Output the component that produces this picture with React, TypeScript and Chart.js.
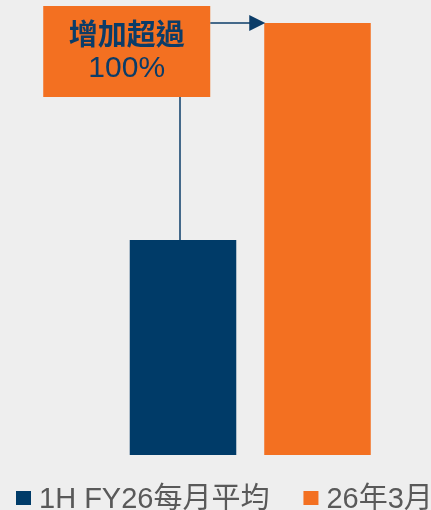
import React, { useEffect, useRef } from "react";
import { Chart, registerables } from "chart.js";

Chart.register(...registerables);

const categories = [""];
const seriesLabels = ["1H FY26每月平均", "26年3月"];
const seriesValues = [[100], [201]];
const seriesColors = ["#003B68", "#F37021"];
const calloutLines = ["增加超過", "100%"];
const yMin = 0;
const yMax = 201;

const BG = "#EEEEEE";
const NAVY = "#0B3C68";
const LEGEND_TEXT = "#595959";
const LATIN = "'Liberation Sans', Arial, 'Noto Sans CJK TC', sans-serif";

const calloutPlugin = {
  id: "callout",
  beforeDraw(chart: any) {
    const { ctx, width, height } = chart;
    ctx.save();
    ctx.fillStyle = BG;
    ctx.fillRect(0, 0, width, height);
    ctx.restore();
  },
  afterDatasetsDraw(chart: any) {
    const { ctx } = chart;
    const blue = chart.getDatasetMeta(0).data[0];
    const orange = chart.getDatasetMeta(1).data[0];
    if (!blue || !orange) return;
    const orangeLeft = orange.x - orange.width / 2;
    const boxRight = orangeLeft - 54;
    const boxLeft = boxRight - 167;
    const boxTop = 6;
    const boxBottom = 97;
    const lineX = blue.x - 3;
    const arrowY = orange.y;

    ctx.save();
    // connector to blue bar
    ctx.strokeStyle = NAVY;
    ctx.lineWidth = 1.5;
    ctx.beginPath();
    ctx.moveTo(lineX, boxBottom);
    ctx.lineTo(lineX, blue.y);
    ctx.stroke();
    // arrow to orange bar
    const tipX = orangeLeft + 1;
    const headLen = 16;
    ctx.beginPath();
    ctx.moveTo(boxRight, arrowY);
    ctx.lineTo(tipX - headLen + 2, arrowY);
    ctx.stroke();
    ctx.fillStyle = NAVY;
    ctx.beginPath();
    ctx.moveTo(tipX, arrowY);
    ctx.lineTo(tipX - headLen, arrowY - 8);
    ctx.lineTo(tipX - headLen, arrowY + 8);
    ctx.closePath();
    ctx.fill();
    // box
    ctx.fillStyle = seriesColors[1];
    ctx.fillRect(boxLeft, boxTop, boxRight - boxLeft, boxBottom - boxTop);
    // text
    const cx = (boxLeft + boxRight) / 2;
    ctx.fillStyle = NAVY;
    ctx.textAlign = "center";
    ctx.textBaseline = "middle";
    ctx.font = `bold 29px 'Noto Sans CJK TC', sans-serif`;
    ctx.fillText(calloutLines[0], cx, 34);
    ctx.font = `30px ${LATIN}`;
    ctx.fillText(calloutLines[1], cx, 69);
    ctx.restore();

    // legend
    ctx.save();
    ctx.font = `29px ${LATIN}`;
    ctx.textAlign = "left";
    ctx.textBaseline = "alphabetic";
    let x = 16;
    chart.data.datasets.forEach((ds: any) => {
      ctx.fillStyle = ds.backgroundColor;
      ctx.fillRect(x, 491, 15, 14);
      ctx.fillStyle = LEGEND_TEXT;
      const tx = x + 23;
      ctx.fillText(ds.label, tx, 508);
      x = tx + ctx.measureText(ds.label).width + 34;
    });
    ctx.restore();
  },
};

export default function App() {
  const ref = useRef<HTMLCanvasElement>(null);
  useEffect(() => {
    if (!ref.current) return;
    const chart = new Chart(ref.current, {
      type: "bar",
      data: {
        labels: categories,
        datasets: seriesLabels.map((label, i) => ({
          label,
          data: seriesValues[i],
          backgroundColor: seriesColors[i],
          borderWidth: 0,
          barPercentage: 0.792,
          categoryPercentage: 1,
        })),
      },
      options: {
        animation: false,
        responsive: false,
        maintainAspectRatio: false,
        layout: { padding: { top: 23, bottom: 55, left: 115.75, right: 46.25 } },
        plugins: {
          legend: { display: false },
          tooltip: { enabled: false },
        },
        scales: {
          x: { display: false },
          y: { display: false, min: yMin, max: yMax },
        },
      },
      plugins: [calloutPlugin],
    });
    return () => chart.destroy();
  }, []);
  return (
    <div style={{ position: "absolute", left: 0, top: 0, width: 431, height: 510, background: BG, overflow: "hidden" }}>
      <canvas ref={ref} width={431} height={510} style={{ display: "block" }} />
    </div>
  );
}
